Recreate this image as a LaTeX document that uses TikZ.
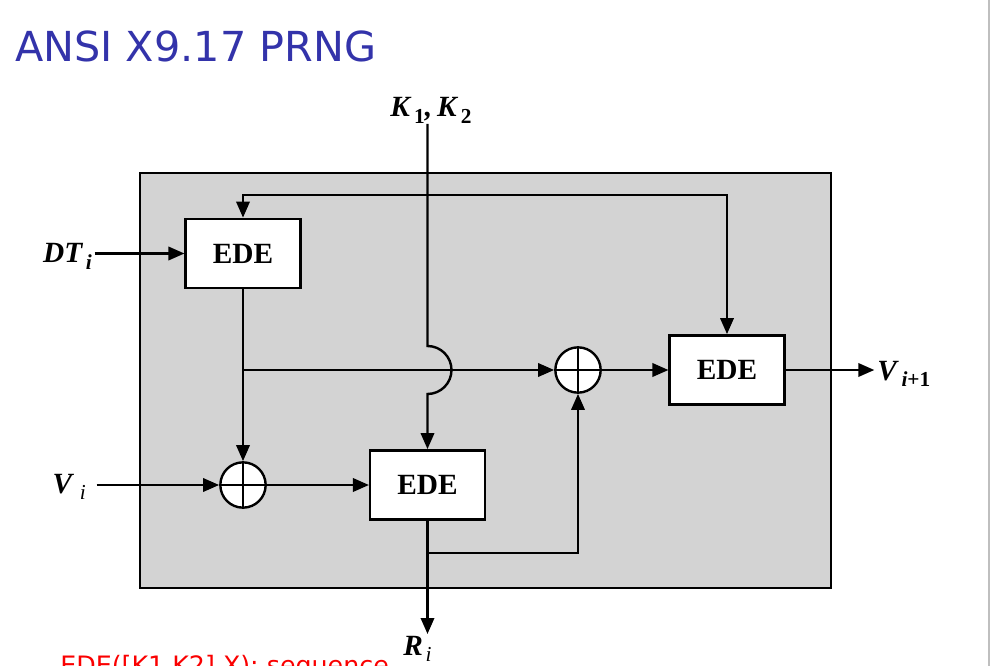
\documentclass[tikz,border=0pt]{standalone}
\usepackage{fontspec}
\setmainfont{Liberation Serif}
\newfontfamily\slidefont{DejaVu Sans}
\usetikzlibrary{arrows.meta,positioning}
\definecolor{titleblue}{RGB}{51,51,170}
\definecolor{boxgray}{RGB}{211,211,211}
\definecolor{notered}{RGB}{250,0,0}
\newcommand{\bvar}[2]{\textbf{\textit{#1}}\kern2pt\raisebox{-0.5ex}{\fontsize{16}{17}\selectfont #2}}
\tikzset{
    % EDE blocks
    edebox/.style={
        draw,
        line width=1.8pt,
        fill=white,
        minimum width=86pt,
        minimum height=52pt,
        inner sep=0pt,
        font=\fontsize{22}{26}\selectfont\bfseries
    },
    % XOR circles
    xorcirc/.style={
        draw,
        circle,
        line width=1.8pt,
        fill=white,
        minimum size=34pt,
        inner sep=0pt
    },
    blackarrow/.style={
        line width=1.8pt,
        black,
        -{Triangle[length=12pt, width=10pt]}
    },
    varlabel/.style={
        inner sep=0pt,
        font=\fontsize{22}{26}\selectfont
    }
}

\begin{document}
\begin{tikzpicture}[x=0.75pt,y=-0.75pt]
\useasboundingbox (0,0) rectangle (991,666);

% ===================== title =====================
\node[anchor=base west, inner sep=0pt, text=titleblue, font=\slidefont\fontsize{31}{36}\selectfont] (title) at (15,62) {ANSI X9.17 PRNG};

% ===================== gray frame =====================
\draw[line width=1.8pt, fill=boxgray] (140,173) rectangle (831,588);

% blocks
\node[edebox] (ede1) at (243,253.5) {EDE};
\node[edebox] (ede2) at (427.5,485) {EDE};
\node[edebox] (ede3) at (727,370) {EDE};
\node[xorcirc] (xor1) at (243,485) {};
\node[xorcirc] (xor2) at (578,370) {};
\draw[line width=1.5pt] (xor1.north) -- (xor1.south) (xor1.west) -- (xor1.east);
\draw[line width=1.5pt] (xor2.north) -- (xor2.south) (xor2.west) -- (xor2.east);

% labels
\node[varlabel, anchor=base] (klbl) at (431,117) {\bvar{K}{\textbf{1}}\textbf{\textit{,\,}}\bvar{K}{\textbf{2}}};
\node[varlabel, anchor=base east] (dt) at (92,263) {\bvar{DT}{\textbf{\textit{i}}}};
\node[varlabel, anchor=base east] (vi) at (86,493) {\bvar{V\,}{\textit{i}}};
\node[varlabel, anchor=base west] (vout) at (877,380) {\bvar{V}{\textbf{\textit{i}+1}}};
\node[varlabel, anchor=base west] (ri) at (403,655) {\bvar{R}{\textit{i}}};

\path
    (427.5,195) coordinate (kj)
    (427.5,346) coordinate (jt)
    (243,370) coordinate (b1)
    (427.5,553) coordinate (b2)
    (427.5,634) coordinate (rout);

% ===================== key line with jump =====================
\draw[blackarrow] (ede2.north |- klbl.south) -- (kj) -- (jt)
    arc[start angle=-90, end angle=90, radius=24] -- (ede2.north);
\draw[blackarrow] (kj) -| (ede1.north);
\draw[blackarrow] (kj) -| (ede3.north);

% ===================== data path =====================
\draw[blackarrow] ([xshift=2]dt.east |- ede1.west) -- (ede1.west);
\draw[blackarrow] (ede1.south) -- (xor1.north);
\draw[blackarrow] (b1) -- (xor2.west);
\draw[blackarrow] ([xshift=8]vi.east |- xor1.west) -- (xor1.west);
\draw[blackarrow] (xor1.east) -- (ede2.west);
\draw[blackarrow] (ede2.south) -- (rout);
\draw[blackarrow] (b2) -| (xor2.south);
\draw[blackarrow] (xor2.east) -- (ede3.west);
\draw[blackarrow] (ede3.east) -- ([xshift=-2]vout.west |- ede3.east);

% cut-off slide text
\node[anchor=base west, inner sep=0pt, text=notered, font=\slidefont\fontsize{19}{22}\selectfont] (note) at (60,674) {EDE([K1,K2],X): sequence};

% right border of the slide
\draw[gray!50, line width=1pt] (989,0) -- (989,666);
\end{tikzpicture}
\end{document}
